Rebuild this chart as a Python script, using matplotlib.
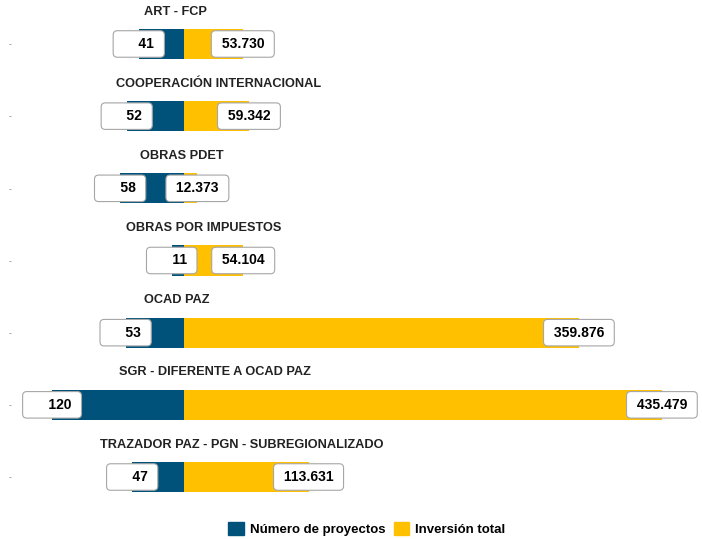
import numpy as np
import matplotlib.pyplot as plt
from matplotlib.patches import Patch
from matplotlib.transforms import ScaledTranslation

plt.rcParams['font.family'] = ['Liberation Sans', 'DejaVu Sans']

# datos
categorias = ['ART - FCP', 'COOPERACIÓN INTERNACIONAL', 'OBRAS PDET',
              'OBRAS POR IMPUESTOS', 'OCAD PAZ', 'SGR - DIFERENTE A OCAD PAZ',
              'TRAZADOR PAZ - PGN - SUBREGIONALIZADO']
proyectos = [41, 52, 58, 11, 53, 120, 47]
inversion = [53.730, 59.342, 12.373, 54.104, 359.876, 435.479, 113.631]

azul = '#00527A'
amarillo = '#FFC000'

fig = plt.figure(figsize=(7.02, 5.39), dpi=100)
ax = fig.add_axes([20/702, 34/539, 673/702, 505/539])

y = np.arange(len(categorias))
ax.barh(y, [-p for p in proyectos], height=0.42, color=azul, zorder=1)
ax.barh(y, inversion, height=0.42, color=amarillo, zorder=1)

caja = dict(boxstyle='round,pad=0.45,rounding_size=0.3', fc='white', ec='#a6a6a6', lw=0.8)
for i in range(len(categorias)):
    ax.text(-proyectos[i], y[i], '     ' + str(proyectos[i]) + ' ', ha='center', va='center',
            fontsize=10, fontweight='bold', color='black', bbox=caja, zorder=3)
    ax.text(inversion[i], y[i], ' ' + f'{inversion[i]:.3f}' + ' ', ha='center', va='center',
            fontsize=10, fontweight='bold', color='black', bbox=caja, zorder=3)

# titulos de cada fila (anclados al 20% del texto)
titulos = []
for i in range(len(categorias)):
    t = ax.text(-24.4, y[i] - 0.45, categorias[i], ha='left', va='center',
                fontsize=9.2, fontweight='bold', color='#222222')
    titulos.append(t)
fig.canvas.draw()
r = fig.canvas.get_renderer()
for t in titulos:
    w = t.get_window_extent(r).width
    t.set_transform(ax.transData + ScaledTranslation(-0.2*w/fig.dpi, 0, fig.dpi_scale_trans))

ax.set_xlim(-149.2, 463.8)
ax.set_ylim(6 + 28/72.2, -44/72.2)
ax.set_yticks(y)
ax.set_yticklabels(['-'] * len(y), fontsize=6, color='#666666')
ax.tick_params(axis='y', length=0, pad=6)
ax.set_xticks([])
for s in ax.spines.values():
    s.set_visible(False)

handles = [Patch(color=azul, label='Número de proyectos'),
           Patch(color=amarillo, label='Inversión total')]
fig.legend(handles=handles, loc='center', bbox_to_anchor=(367/702, 1 - 529/539), ncol=2,
           frameon=False, handlelength=1.2, handleheight=1.2, handletextpad=0.45,
           columnspacing=0.6, prop={'size': 9.5, 'weight': 'bold'})

fig.savefig('out.png', dpi=100)
